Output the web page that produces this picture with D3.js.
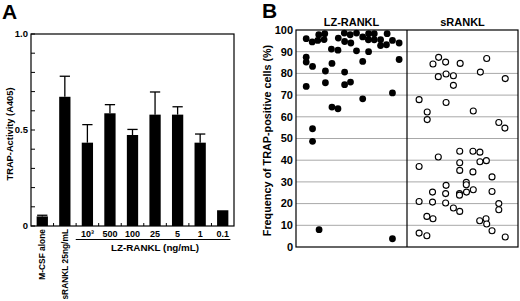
<!DOCTYPE html>
<html>
<head>
<meta charset="utf-8">
<script src="https://cdn.jsdelivr.net/npm/d3@7"></script>
<style>
  body { margin: 0; background: #fff; }
  svg text { font-family: "Liberation Sans", Arial, sans-serif; font-weight: bold; }
</style>
</head>
<body>
<div id="chart"></div>
<script>
// Panel A data
const barCats = ["M-CSF alone", "sRANKL 25ng/mL", "10³", "500", "100", "25", "5", "1", "0.1"]
const barVals = [0.05, 0.673, 0.434, 0.587, 0.474, 0.58, 0.58, 0.434, 0.082]
const barSD = [0.006, 0.107, 0.094, 0.045, 0.029, 0.118, 0.041, 0.045, 0]
const yTicksA = [0, 0.1, 0.2, 0.3, 0.4, 0.5, 0.6, 0.7, 0.8, 0.9, 1.0]
const yLabelsA = { 0: "0", 0.5: "0.5", 1: "1.0" }

// Panel B data (jitter = horizontal place inside the column, 0-100)
const groups = ["LZ-RANKL", "sRANKL"]
const lzJitter = [9.2, 14.6, 20.5, 25.9, 19.6, 25.3, 38.1, 43.5, 43.8, 48.8, 49.4, 54.5, 60.1, 65.4, 70.5, 65.2,
  70.5, 76.2, 76.2, 82.1, 81.5, 86.9, 92.9, 31.9, 37.8, 54.5, 65.4, 9.2, 9.2, 14.9, 92.9, 32.4, 60.1, 26.5, 43.8,
  9.2, 26.5, 43.8, 49.1, 60.1, 86.9, 32.4, 37.8, 14.9, 14.9, 20.8, 86.9]
const lzValues = [96, 94.5, 97.8, 98.3, 95.2, 95.6, 96.3, 98.6, 94.7, 97.8, 94, 98.6, 96.8, 98.3, 98.3, 95.5,
  95.5, 95.5, 92.8, 98.3, 93.2, 95.2, 94, 91.2, 90.7, 90.4, 90, 87.5, 85.2, 83.2, 86.4, 84.6, 85.5, 81.1, 80.6,
  74, 75.7, 74.8, 76, 68.3, 71, 64.5, 63.7, 54.5, 48.7, 8, 3.8]
const srJitter = [28.5, 23.4, 34.8, 47.9, 71.8, 28.2, 35.2, 41.8, 66.1, 88.5, 41.8, 10.9, 35.2, 18.2, 59.7, 18.2,
  82.7, 88.2, 47.5, 59.4, 65.7, 28.2, 10.9, 47.5, 65.7, 71.5, 47.5, 59.4, 76.6, 53.4, 53.4, 35.2, 23, 34.8, 47.3,
  47.3, 53.6, 59.7, 76.6, 10.9, 23, 34.8, 41.8, 47.5, 82.7, 82.7, 17.9, 23.4, 65.5, 71.2, 71.8, 76.6, 10.9, 17.9, 88.5]
const srValues = [87.4, 84.3, 85.2, 84.6, 86.9, 78.5, 79.7, 78.9, 80.6, 77.6, 74.5, 67.9, 66.6, 62.2, 62.7, 58.7,
  57.4, 54.8, 44.1, 44.1, 43.7, 41.5, 37.1, 38.8, 39.3, 39.8, 35.3, 34.6, 32.3, 29.8, 28.7, 28.4, 25.3, 24.6, 24.6,
  23.9, 25.3, 26.4, 25.6, 21, 20.7, 20.3, 18, 16.4, 20, 17.2, 14.1, 13, 12.1, 13, 10.6, 7.5, 6.4, 5.2, 4.6]
const yTicksB = [0, 10, 20, 30, 40, 50, 60, 70, 80, 90, 100]

const svg = d3.select("#chart").append("svg")
  .attr("width", 520)
  .attr("height", 301)

// ---------- Panel A ----------
const a = { left: 31, right: 234, top: 34, bottom: 226 }

const x = d3.scaleBand()
  .domain(barCats)
  .range([a.left, a.right])
  .paddingInner(0.5)
  .paddingOuter(0.25)

const y = d3.scaleLinear()
  .domain([0, 1])
  .range([a.bottom, a.top])

svg.append("text")
  .attr("x", 2).attr("y", 19)
  .attr("font-size", 21)
  .text("A")

const gA = svg.append("g")

gA.append("rect")
  .attr("x", a.left).attr("y", a.top)
  .attr("width", a.right - a.left).attr("height", a.bottom - a.top)
  .attr("fill", "none").attr("stroke", "#000").attr("stroke-width", 1.2)

// y ticks pointing inward
gA.selectAll(".ytick")
  .data(yTicksA)
  .join("line")
  .attr("x1", a.left).attr("x2", a.left + 4)
  .attr("y1", d => y(d)).attr("y2", d => y(d))
  .attr("stroke", "#000")

gA.selectAll(".ylab")
  .data(yTicksA.filter(d => yLabelsA[d] !== undefined))
  .join("text")
  .attr("x", a.left - 3)
  .attr("y", d => y(d))
  .attr("dy", "0.35em")
  .attr("text-anchor", "end")
  .attr("font-size", 9.5)
  .text(d => yLabelsA[d])

// x ticks at category boundaries
gA.selectAll(".xtick")
  .data(barCats.slice(1))
  .join("line")
  .attr("x1", d => x(d) - x.step() * x.paddingInner() / 2)
  .attr("x2", d => x(d) - x.step() * x.paddingInner() / 2)
  .attr("y1", a.bottom).attr("y2", a.bottom - 3)
  .attr("stroke", "#000")

// bars
gA.selectAll(".bar")
  .data(barCats)
  .join("rect")
  .attr("x", d => x(d))
  .attr("y", (d, i) => y(barVals[i]))
  .attr("width", x.bandwidth())
  .attr("height", (d, i) => y(0) - y(barVals[i]))
  .attr("fill", "#000")

// error bars
const errs = barCats.map((d, i) => ({ c: d, v: barVals[i], sd: barSD[i] })).filter(d => d.sd > 0)
gA.selectAll(".err")
  .data(errs)
  .join("line")
  .attr("x1", d => x(d.c) + x.bandwidth() / 2)
  .attr("x2", d => x(d.c) + x.bandwidth() / 2)
  .attr("y1", d => y(d.v)).attr("y2", d => y(d.v + d.sd))
  .attr("stroke", "#000").attr("stroke-width", 1.3)
gA.selectAll(".cap")
  .data(errs)
  .join("line")
  .attr("x1", d => x(d.c) + 0.5)
  .attr("x2", d => x(d.c) + x.bandwidth() - 0.5)
  .attr("y1", d => y(d.v + d.sd)).attr("y2", d => y(d.v + d.sd))
  .attr("stroke", "#000").attr("stroke-width", 1.3)

// x labels
gA.selectAll(".xrot")
  .data(barCats.slice(0, 2))
  .join("text")
  .attr("transform", d => `translate(${x(d) + x.bandwidth() / 2},229) rotate(-90)`)
  .attr("dy", "0.35em")
  .attr("text-anchor", "end")
  .attr("font-size", 8.4)
  .text(d => d)

gA.selectAll(".xlab")
  .data(barCats.slice(2))
  .join("text")
  .attr("x", d => x(d) + x.bandwidth() / 2)
  .attr("y", 236.5)
  .attr("text-anchor", "middle")
  .attr("font-size", 9)
  .text(d => d)

const lzFirst = barCats[2], lzLast = barCats[barCats.length - 1]
gA.append("line")
  .attr("x1", x(lzFirst) - 6).attr("x2", x(lzLast) + x.bandwidth() + 2)
  .attr("y1", 239.5).attr("y2", 239.5)
  .attr("stroke", "#000").attr("stroke-width", 1.2)

gA.append("text")
  .attr("x", (x(lzFirst) + x(lzLast) + x.bandwidth()) / 2)
  .attr("y", 250.5)
  .attr("text-anchor", "middle")
  .attr("font-size", 9.8)
  .text("LZ-RANKL (ng/mL)")

gA.append("text")
  .attr("transform", `translate(13,${(a.top + a.bottom) / 2 + 4}) rotate(-90)`)
  .attr("text-anchor", "middle")
  .attr("font-size", 9.3)
  .text("TRAP-Activity (A405)")

// ---------- Panel B ----------
const b = { left: 296, right: 518, top: 30, bottom: 247 }

const gx = d3.scaleBand()
  .domain(groups)
  .range([b.left, b.right])

const jx = d3.scaleLinear()
  .domain([0, 100])
  .range([0, gx.bandwidth()])

const yb = d3.scaleLinear()
  .domain([0, 100])
  .range([b.bottom, b.top])

svg.append("text")
  .attr("x", 262).attr("y", 18)
  .attr("font-size", 21)
  .text("B")

const gB = svg.append("g")

gB.selectAll(".grid")
  .data(yTicksB.slice(1, -1))
  .join("line")
  .attr("x1", b.left).attr("x2", b.right)
  .attr("y1", d => yb(d)).attr("y2", d => yb(d))
  .attr("stroke", "#a8a8a8").attr("stroke-width", 1)

gB.append("rect")
  .attr("x", b.left).attr("y", b.top)
  .attr("width", b.right - b.left).attr("height", b.bottom - b.top)
  .attr("fill", "none").attr("stroke", "#000").attr("stroke-width", 1.2)

gB.append("line")
  .attr("x1", gx(groups[1])).attr("x2", gx(groups[1]))
  .attr("y1", b.top).attr("y2", b.bottom)
  .attr("stroke", "#000").attr("stroke-width", 1.2)

gB.selectAll(".ylab")
  .data(yTicksB)
  .join("text")
  .attr("x", b.left - 3)
  .attr("y", d => yb(d))
  .attr("dy", "0.35em")
  .attr("text-anchor", "end")
  .attr("font-size", 11)
  .text(d => d)

gB.selectAll(".head")
  .data(groups)
  .join("text")
  .attr("x", d => gx(d) + gx.bandwidth() / 2)
  .attr("y", 26)
  .attr("text-anchor", "middle")
  .attr("font-size", 11)
  .text(d => d)

gB.append("text")
  .attr("transform", `translate(271,${(b.top + b.bottom) / 2 + 2}) rotate(-90)`)
  .attr("text-anchor", "middle")
  .attr("font-size", 10.8)
  .text("Frequency of TRAP-positive cells (%)")

gB.selectAll(".lz")
  .data(lzValues)
  .join("circle")
  .attr("cx", (d, i) => gx(groups[0]) + jx(lzJitter[i]))
  .attr("cy", d => yb(d))
  .attr("r", 3.4)
  .attr("fill", "#000")

gB.selectAll(".sr")
  .data(srValues)
  .join("circle")
  .attr("cx", (d, i) => gx(groups[1]) + jx(srJitter[i]))
  .attr("cy", d => yb(d))
  .attr("r", 3)
  .attr("fill", "#fff")
  .attr("stroke", "#000")
  .attr("stroke-width", 1.1)
</script>
</body>
</html>
